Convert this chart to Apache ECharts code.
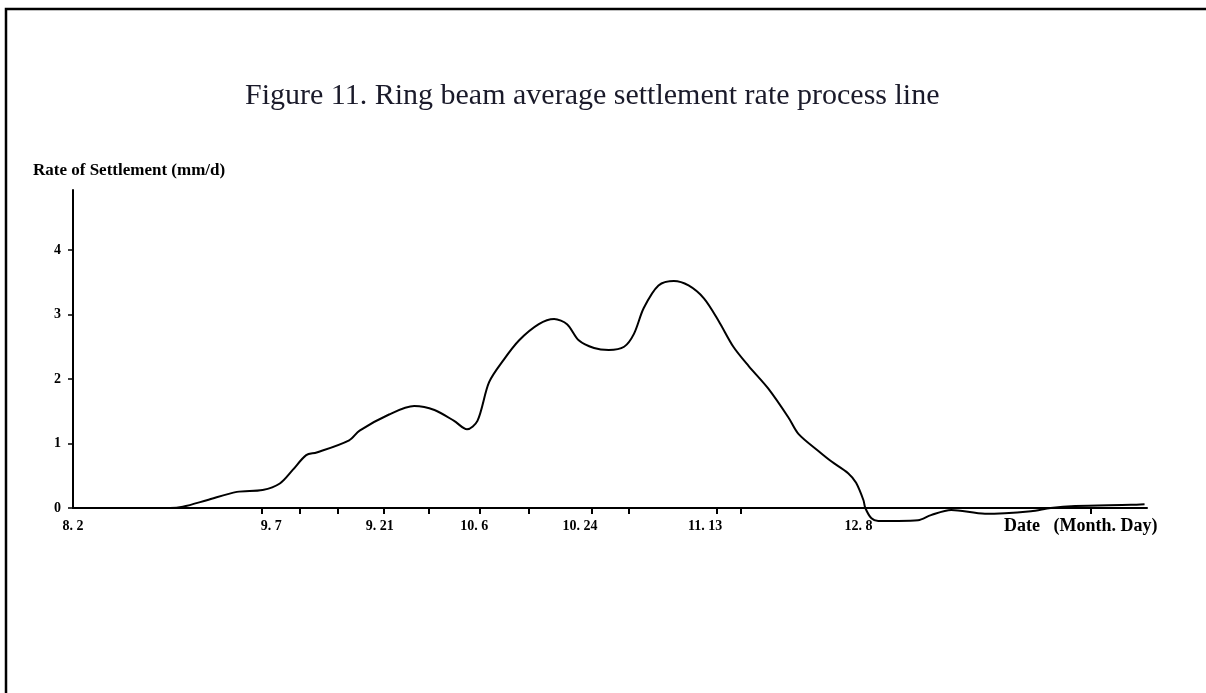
<!DOCTYPE html>
<html>
<head>
<meta charset="utf-8">
<script src="https://cdn.jsdelivr.net/npm/echarts@6/dist/echarts.min.js"></script>
<style>html,body{margin:0;padding:0;background:#fff}#c{width:1206px;height:693px}</style>
</head>
<body>
<div id="c"></div>
<script>
// Axis positions (in days from 8.2, as drawn on the hand-made axis)
const tickDays = [0, 32.3, 50, 65.4, 82.6, 103, 128];
const tickLabels = ['8. 2', '9. 7', '9. 21', '10. 6', '10. 24', '11. 13', '12. 8'];
const minorTickDays = [30.7, 36.9, 43.1, 50.7, 58, 66.2, 74.3, 84.6, 90.6, 104.9, 108.8, 165.9];
const yTicks = [0, 1, 2, 3, 4];
// Curve: day offset and settlement rate (mm/d)
const days = [4, 15.8, 17.9, 21.8, 26.7, 30.9, 33.7, 35.8, 38.0, 39.7, 45.0, 46.7, 51.5, 55.6, 58.9, 62.1, 64.2, 65.9, 67.8, 70.2, 72.7, 75.9, 78.4, 80.5, 82.4, 84.9, 87.3, 89.8, 91.4, 93.0, 95.4, 97.9, 100.3, 102.8, 105.2, 107.6, 110.1, 113.3, 116.6, 118.2, 121.5, 123.6, 126.3, 127.6, 128.8, 129.1, 130.1, 131.2, 134.5, 137.7, 139.8, 143.1, 148.6, 156.1, 159.3, 163.3, 172.4, 174.6];
const rates = [0, 0, 0.02, 0.12, 0.25, 0.28, 0.38, 0.59, 0.82, 0.86, 1.05, 1.2, 1.45, 1.58, 1.52, 1.35, 1.22, 1.35, 1.95, 2.3, 2.6, 2.85, 2.93, 2.85, 2.6, 2.48, 2.45, 2.5, 2.7, 3.1, 3.45, 3.52, 3.45, 3.25, 2.9, 2.5, 2.2, 1.85, 1.4, 1.15, 0.88, 0.72, 0.54, 0.39, 0.12, 0, -0.16, -0.2, -0.2, -0.19, -0.11, -0.03, -0.09, -0.05, 0, 0.03, 0.05, 0.06];

const chart = echarts.init(document.getElementById('c'), null, {renderer: 'canvas'});
const serif = 'Liberation Serif';
chart.setOption({
  backgroundColor: '#fff',
  animation: false,
  title: {
    text: 'Figure 11. Ring beam average settlement rate process line',
    left: 240, top: 76,
    textStyle: {fontFamily: serif, fontSize: 30, fontWeight: 'normal', color: '#1a1a2a'}
  },
  grid: {left: 73, right: 59, top: 190, bottom: 693 - 508, containLabel: false},
  xAxis: {
    type: 'value', min: 0, max: 175,
    axisLine: {onZero: true, lineStyle: {color: '#000', width: 2}},
    axisTick: {show: true, customValues: minorTickDays, length: 6, lineStyle: {color: '#000', width: 2}},
    axisLabel: {
      customValues: tickDays,
      formatter: function (v) { const i = tickDays.indexOf(v); return i >= 0 ? tickLabels[i] : ''; },
      fontFamily: serif, fontWeight: 'bold', fontSize: 14, color: '#000', margin: 11
    },
    splitLine: {show: false}
  },
  yAxis: {
    type: 'value', min: 0, max: 4.93,
    axisLine: {show: true, lineStyle: {color: '#000', width: 2}},
    axisTick: {show: true, customValues: yTicks, length: 5, lineStyle: {color: '#000', width: 1.5}},
    axisLabel: {
      customValues: yTicks,
      fontFamily: serif, fontWeight: 'bold', fontSize: 14, color: '#000', margin: 12
    },
    splitLine: {show: false}
  },
  series: [{
    type: 'line',
    data: days.map((d, i) => [d, rates[i]]),
    smooth: 0.3,
    clip: false,
    symbol: 'none',
    lineStyle: {color: '#000', width: 2}
  }],
  graphic: [
    {type: 'rect', shape: {x: 6, y: 9, width: 1400, height: 900}, style: {fill: 'none', stroke: '#000', lineWidth: 2.5}},
    {type: 'text', left: 33, top: 162, style: {text: 'Rate of Settlement (mm/d)', font: 'bold 17px "Liberation Serif"', fill: '#000'}},
    {type: 'text', left: 1004, top: 517, style: {text: 'Date   (Month. Day)', font: 'bold 18px "Liberation Serif"', fill: '#000'}}
  ]
});
</script>
</body>
</html>
